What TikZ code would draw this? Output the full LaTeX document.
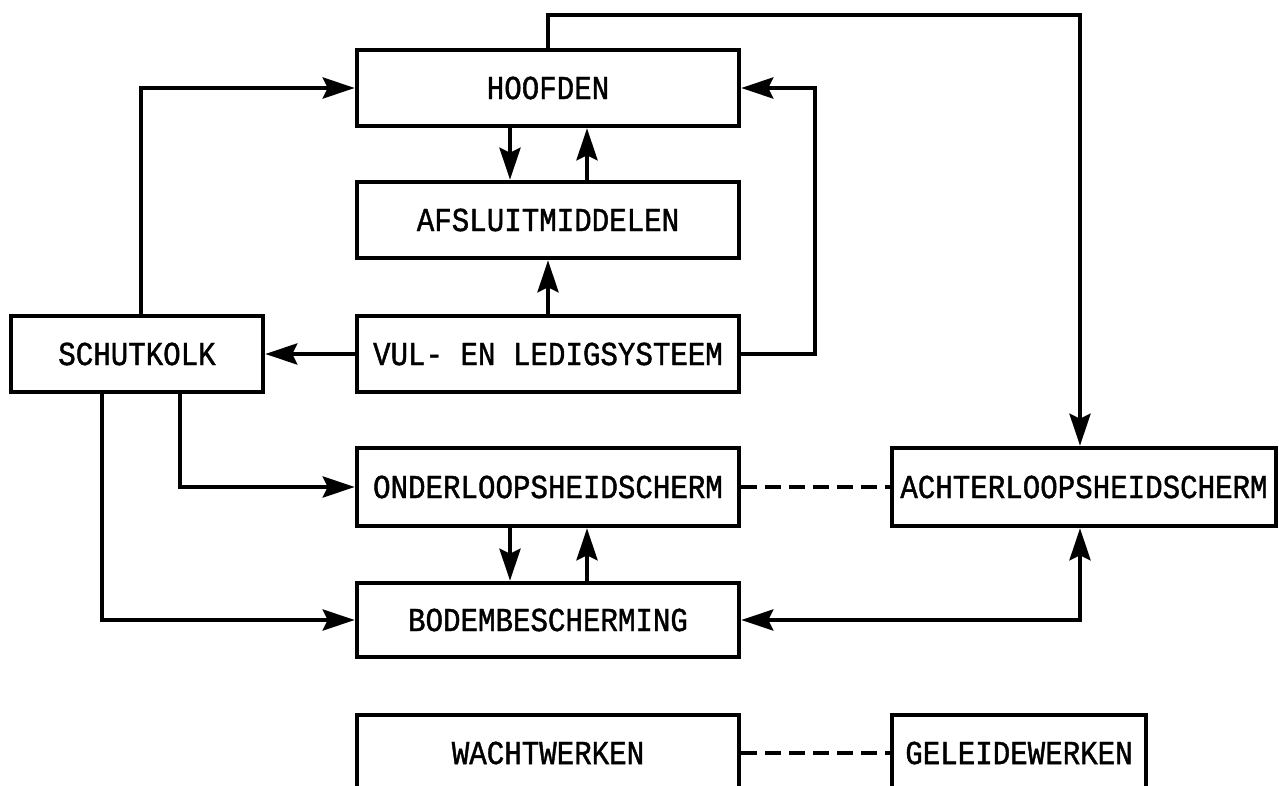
\documentclass[tikz,border=0pt]{standalone}
\usepackage{fontspec}
\newfontfamily\boxfont[FakeStretch=0.87, FakeBold=1.2]{Liberation Mono}
\usetikzlibrary{arrows.meta}
\tikzset{
  blk/.style={draw, line width=4.5pt, rectangle, inner sep=0pt, minimum height=76pt, minimum width=382pt, font=\boxfont\fontsize{33.5}{38}\selectfont},
  conn/.style={line width=4pt},
  arr/.style={conn, -{Stealth[length=32pt, width=21pt, inset=5pt]}},
  arrboth/.style={conn, {Stealth[length=32pt, width=21pt, inset=5pt]}-{Stealth[length=32pt, width=21pt, inset=5pt]}},
  dsh/.style={line width=4pt, dash pattern=on 16pt off 8pt},
}
\begin{document}
\begin{tikzpicture}[x=1pt, y=-1pt]
\clip (0,0) rectangle (1279,786);
\fill[white] (0,0) rectangle (1279,786);
\node[blk] (hoof) at (548,88) {HOOFDEN};
\node[blk] (afs) at (548,220) {AFSLUITMIDDELEN};
\node[blk] (vul) at (548,354) {VUL- EN LEDIGSYSTEEM};
\node[blk, minimum width=252pt] (schut) at (137,354) {SCHUTKOLK};
\node[blk, minimum height=78pt] (onder) at (548,487) {ONDERLOOPSHEIDSCHERM};
\node[blk, minimum height=78pt, minimum width=384pt] (achter) at (1084,487) {ACHTERLOOPSHEIDSCHERM};
\node[blk, minimum height=74pt] (bodem) at (548,620) {BODEMBESCHERMING};
\node[blk] (wacht) at (548,753) {WACHTWERKEN};
\node[blk, minimum width=254pt] (gel) at (1019,753) {GELEIDEWERKEN};
\coordinate (top) at (548,15);
\coordinate (rgt) at (815,354);
% connectors
\draw[arr] ([xshift=4pt]schut.north) |- (hoof.west);
\draw[arr] ([xshift=-38pt]hoof.south) -- ([xshift=-38pt]afs.north);
\draw[arr] ([xshift=39pt]afs.north) -- ([xshift=39pt]hoof.south);
\draw[arr] (vul.north) -- (afs.south);
\draw[arr] (vul.west) -- (schut.east);
\draw[arr] (vul.east) -- (rgt) |- (hoof.east);
\draw[arr] (hoof.north) -- (top) -| ([xshift=-4pt]achter.north);
\draw[arr] ([xshift=43pt]schut.south) |- (onder.west);
\draw[arr] ([xshift=-35pt]schut.south) |- (bodem.west);
\draw[arr] ([xshift=-38pt]onder.south) -- ([xshift=-38pt]bodem.north);
\draw[arr] ([xshift=39pt]bodem.north) -- ([xshift=39pt]onder.south);
\draw[arrboth] (bodem.east) -| ([xshift=-4pt]achter.south);
\draw[dsh] (onder.east) -- (achter.west);
\draw[dsh] (wacht.east) -- (gel.west);
\end{tikzpicture}
\end{document}
